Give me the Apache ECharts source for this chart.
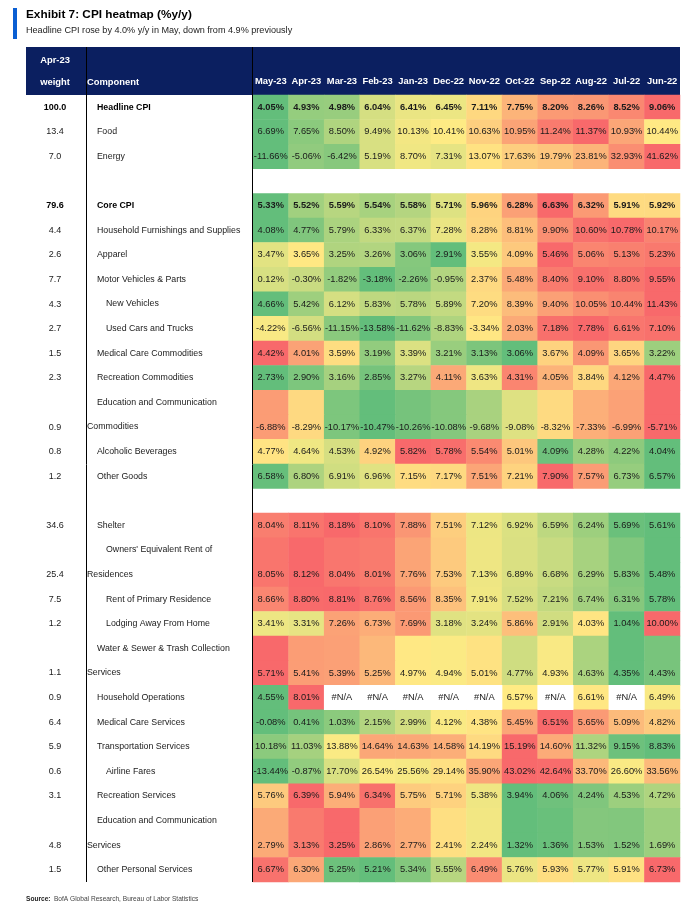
<!DOCTYPE html>
<html><head><meta charset="utf-8">
<script src="https://cdn.jsdelivr.net/npm/echarts@6/dist/echarts.min.js"></script>
<style>html,body{margin:0;padding:0;background:#fff}#c{width:687px;height:911px}</style>
</head><body><div id="c"></div>
<script>
const months = ['May-23','Apr-23','Mar-23','Feb-23','Jan-23','Dec-22','Nov-22','Oct-22','Sep-22','Aug-22','Jul-22','Jun-22'];

const headline = [4.05,4.93,4.98,6.04,6.41,6.45,7.11,7.75,8.20,8.26,8.52,9.06];
const food = [6.69,7.65,8.50,9.49,10.13,10.41,10.63,10.95,11.24,11.37,10.93,10.44];
const energy = [-11.66,-5.06,-6.42,5.19,8.70,7.31,13.07,17.63,19.79,23.81,32.93,41.62];
const coreCpi = [5.33,5.52,5.59,5.54,5.58,5.71,5.96,6.28,6.63,6.32,5.91,5.92];
const furnishings = [4.08,4.77,5.79,6.33,6.37,7.28,8.28,8.81,9.90,10.60,10.78,10.17];
const apparel = [3.47,3.65,3.25,3.26,3.06,2.91,3.55,4.09,5.46,5.06,5.13,5.23];
const motorVehicles = [0.12,-0.30,-1.82,-3.18,-2.26,-0.95,2.37,5.48,8.40,9.10,8.80,9.55];
const newVehicles = [4.66,5.42,6.12,5.83,5.78,5.89,7.20,8.39,9.40,10.05,10.44,11.43];
const usedCars = [-4.22,-6.56,-11.15,-13.58,-11.62,-8.83,-3.34,2.03,7.18,7.78,6.61,7.10];
const medCommodities = [4.42,4.01,3.59,3.19,3.39,3.21,3.13,3.06,3.67,4.09,3.65,3.22];
const recCommodities = [2.73,2.90,3.16,2.85,3.27,4.11,3.63,4.31,4.05,3.84,4.12,4.47];
const eduCommodities = [-6.88,-8.29,-10.17,-10.47,-10.26,-10.08,-9.68,-9.08,-8.32,-7.33,-6.99,-5.71];
const alcohol = [4.77,4.64,4.53,4.92,5.82,5.78,5.54,5.01,4.09,4.28,4.22,4.04];
const otherGoods = [6.58,6.80,6.91,6.96,7.15,7.17,7.51,7.21,7.90,7.57,6.73,6.57];
const shelter = [8.04,8.11,8.18,8.10,7.88,7.51,7.12,6.92,6.59,6.24,5.69,5.61];
const oer = [8.05,8.12,8.04,8.01,7.76,7.53,7.13,6.89,6.68,6.29,5.83,5.48];
const rent = [8.66,8.80,8.81,8.76,8.56,8.35,7.91,7.52,7.21,6.74,6.31,5.78];
const lodging = [3.41,3.31,7.26,6.73,7.69,3.18,3.24,5.86,2.91,4.03,1.04,10.00];
const water = [5.71,5.41,5.39,5.25,4.97,4.94,5.01,4.77,4.93,4.63,4.35,4.43];
const householdOps = [4.55,8.01,null,null,null,null,null,6.57,null,6.61,null,6.49];
const medServices = [-0.08,0.41,1.03,2.15,2.99,4.12,4.38,5.45,6.51,5.65,5.09,4.82];
const transportation = [10.18,11.03,13.88,14.64,14.63,14.58,14.19,15.19,14.60,11.32,9.15,8.83];
const airline = [-13.44,-0.87,17.70,26.54,25.56,29.14,35.90,43.02,42.64,33.70,26.60,33.56];
const recServices = [5.76,6.39,5.94,6.34,5.75,5.71,5.38,3.94,4.06,4.24,4.53,4.72];
const eduServices = [2.79,3.13,3.25,2.86,2.77,2.41,2.24,1.32,1.36,1.53,1.52,1.69];
const otherPersonal = [6.67,6.30,5.25,5.21,5.34,5.55,6.49,5.76,5.93,5.77,5.91,6.73];

const components = ['Headline CPI','Food','Energy',null,'Core CPI','Household Furnishings and Supplies','Apparel','Motor Vehicles & Parts','New Vehicles','Used Cars and Trucks','Medical Care Commodities','Recreation Commodities','Education and Communication\nCommodities','Alcoholic Beverages','Other Goods',null,'Shelter',"Owners' Equivalent Rent of\nResidences",'Rent of Primary Residence','Lodging Away From Home','Water & Sewer & Trash Collection\nServices','Household Operations','Medical Care Services','Transportation Services','Airline Fares','Recreation Services','Education and Communication\nServices','Other Personal Services'];
const weights = ['100.0','13.4','7.0',null,'79.6','4.4','2.6','7.7','4.3','2.7','1.5','2.3','0.9','0.8','1.2',null,'34.6','25.4','7.5','1.2','1.1','0.9','6.4','5.9','0.6','3.1','4.8','1.5'];
const rowValues = [headline,food,energy,null,coreCpi,furnishings,apparel,motorVehicles,newVehicles,usedCars,medCommodities,recCommodities,eduCommodities,alcohol,otherGoods,null,shelter,oer,rent,lodging,water,householdOps,medServices,transportation,airline,recServices,eduServices,otherPersonal];

// styling (indent level per row, bold rows)
const indentLevel = [1,1,1,0,1,1,1,1,2,2,1,1,1,1,1,0,1,2,2,2,1,1,1,1,2,1,1,1];
const boldRows = [0,4];

const FONT = "'Liberation Sans',Arial,sans-serif";
const CELL_FS = 9.3, LAB_FS = 8.8;

function rowScale(vals){
  const v = vals.filter(x=>x!=null).sort((a,b)=>a-b);
  const n=v.length, mn=v[0], mx=v[n-1];
  const pos=(n-1)*0.5, lo=Math.floor(pos), hi=Math.ceil(pos);
  const med=v[lo]+(v[hi]-v[lo])*(pos-lo);
  return x => x<=med ? (med===mn?0.5:0.5*(x-mn)/(med-mn)) : 0.5+0.5*(x-med)/(mx-med);
}

const slots=[];
components.forEach((c,i)=>{
  if(c===null){slots.push({text:'',level:0,row:i,last:true});return;}
  const lines=c.split('\n');
  lines.forEach((t,k)=>slots.push({text:t,level:k===0?indentLevel[i]:0,row:i,last:k===lines.length-1}));
});

const cells=[], naCells=[];
slots.forEach((s,si)=>{
  const vals=rowValues[s.row];
  if(!vals) return;
  const sc=rowScale(vals);
  const bold=boldRows.includes(s.row);
  vals.forEach((v,j)=>{
    if(v==null){ if(s.last) naCells.push({value:[j,si,0]}); return; }
    cells.push({value:[j,si,sc(v),v],label:{show:s.last,fontWeight:bold?'bold':'normal'}});
  });
});

const chart=echarts.init(document.getElementById('c'),null,{renderer:'canvas'});
const base={fontSize:LAB_FS,color:'#1a1a1a',fontFamily:FONT};
const rich={
  n0:Object.assign({padding:[0,0,0,0]},base),
  n1:Object.assign({padding:[0,0,0,10]},base),
  n2:Object.assign({padding:[0,0,0,19]},base),
  b0:Object.assign({padding:[0,0,0,0]},base,{fontWeight:'bold',color:'#000'}),
  b1:Object.assign({padding:[0,0,0,10]},base,{fontWeight:'bold',color:'#000'}),
  b2:Object.assign({padding:[0,0,0,19]},base,{fontWeight:'bold',color:'#000'}),
  w:{fontSize:9,color:'#1a1a1a',fontFamily:FONT},
  wb:{fontSize:9,color:'#000',fontWeight:'bold',fontFamily:FONT}
};
const T=47, B=882, L=253, R=680;
chart.setOption({
  animation:false,
  backgroundColor:'#fff',
  title:{text:'Exhibit 7: CPI heatmap (%y/y)',subtext:'Headline CPI rose by 4.0% y/y in May, down from 4.9% previously',
    left:26,top:9,padding:0,itemGap:5,
    textStyle:{fontFamily:FONT,fontSize:11.8,fontWeight:'bold',color:'#000'},
    subtextStyle:{fontFamily:FONT,fontSize:9.1,color:'#222'}},
  grid:{left:L,right:687-R,top:95,bottom:911-B},
  xAxis:{type:'category',data:months,position:'top',z:10,
    axisLine:{show:false},axisTick:{show:false},splitLine:{show:false},
    axisLabel:{color:'#fff',fontWeight:'bold',fontSize:9.4,fontFamily:FONT,margin:9,interval:0}},
  yAxis:[
    {type:'category',inverse:true,data:slots.map((s,i)=>'s'+i),z:10,
     axisLine:{show:false},axisTick:{show:false},splitLine:{show:false},
     axisLabel:{interval:0,align:'left',margin:L-87,
       formatter:(v,i)=>{const s=slots[i]; if(!s||!s.text) return ''; const b=boldRows.includes(s.row)?'b':'n'; return '{'+b+s.level+'|'+s.text+'}';},
       rich:rich}},
    {type:'category',inverse:true,position:'left',data:slots.map((s,i)=>'w'+i),z:10,
     axisLine:{show:false},axisTick:{show:false},splitLine:{show:false},
     axisLabel:{interval:0,align:'center',margin:L-55,
       formatter:(v,i)=>{const s=slots[i]; if(!s||!s.last||!weights[s.row]) return ''; const b=boldRows.includes(s.row)?'wb':'w'; return '{'+b+'|'+weights[s.row]+'}';},
       rich:rich}}
  ],
  visualMap:{type:'continuous',show:false,min:0,max:1,dimension:2,seriesIndex:0,
    inRange:{color:['#63BE7B','#FFEB84','#F8696B']}},
  series:[
    {type:'heatmap',data:cells,
     label:{show:true,fontSize:CELL_FS,fontFamily:FONT,color:'#1a1a1a',formatter:p=>p.value[3].toFixed(2)+'%'},
     itemStyle:{borderWidth:0},emphasis:{disabled:true}},
    {type:'heatmap',data:naCells,itemStyle:{color:'#ffffff'},
     label:{show:true,fontSize:CELL_FS,fontFamily:FONT,color:'#1a1a1a',formatter:'#N/A'},emphasis:{disabled:true}}
  ],
  graphic:{elements:[
    {type:'rect',shape:{x:13,y:8,width:4,height:31},style:{fill:'#0A5FD3'}},
    {type:'rect',z:-5,shape:{x:26,y:T,width:R-26,height:95-T},style:{fill:'#0B1F60'}},
    {type:'line',z:20,shape:{x1:86.5,y1:T,x2:86.5,y2:B},style:{stroke:'#000',lineWidth:1}},
    {type:'line',z:20,shape:{x1:252.5,y1:T,x2:252.5,y2:B},style:{stroke:'#000',lineWidth:1}},
    {type:'text',z:20,style:{x:55,y:60,text:'Apr-23',fill:'#fff',font:'bold 9.4px '+FONT,textAlign:'center',textVerticalAlign:'middle'}},
    {type:'text',z:20,style:{x:55,y:82,text:'weight',fill:'#fff',font:'bold 9.4px '+FONT,textAlign:'center',textVerticalAlign:'middle'}},
    {type:'text',z:20,style:{x:87,y:82,text:'Component',fill:'#fff',font:'bold 9.4px '+FONT,textAlign:'left',textVerticalAlign:'middle'}},
    {type:'text',z:20,style:{x:26,y:899,text:'{s|Source:} {t|BofA Global Research, Bureau of Labor Statistics}',textVerticalAlign:'middle',
      rich:{s:{fontWeight:'bold',fontSize:6.6,fontFamily:FONT,fill:'#222'},t:{fontSize:6.6,fontFamily:FONT,fill:'#444'}}}}
  ]}
});
</script></body></html>
